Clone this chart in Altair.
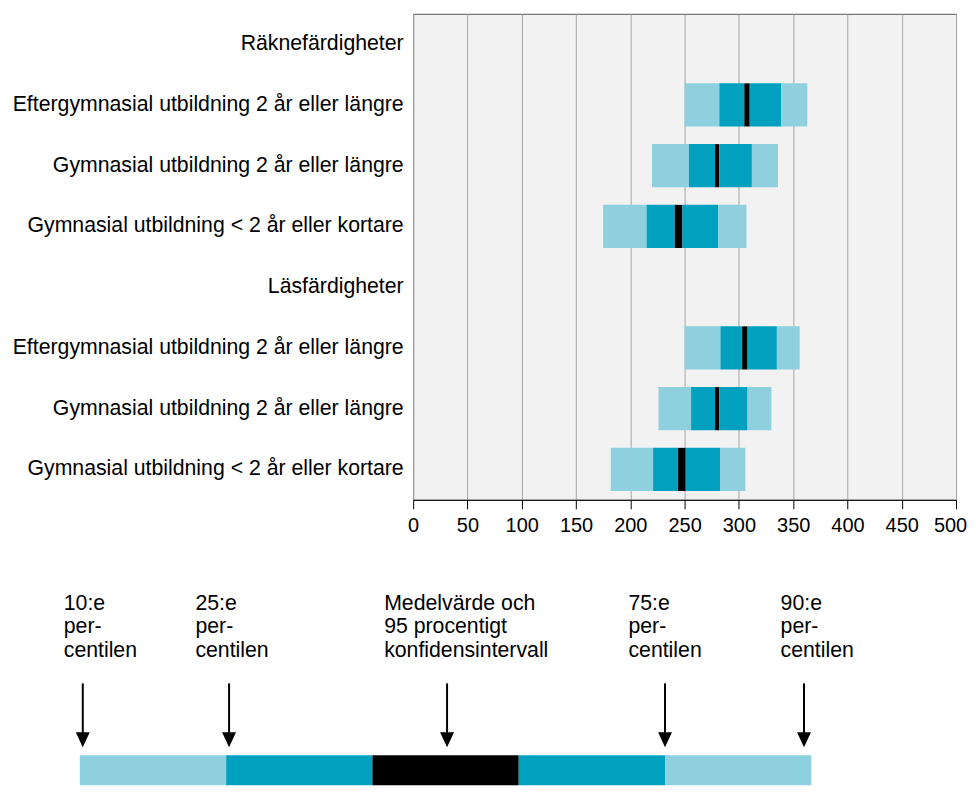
import json
import altair as alt
import pandas as pd

# ---------------- data ----------------
row_labels = [
    "Räknefärdigheter",
    "Eftergymnasial utbildning 2 år eller längre",
    "Gymnasial utbildning 2 år eller längre",
    "Gymnasial utbildning < 2 år eller kortare",
    "Läsfärdigheter",
    "Eftergymnasial utbildning 2 år eller längre",
    "Gymnasial utbildning 2 år eller längre",
    "Gymnasial utbildning < 2 år eller kortare",
]
data_rows = [1, 2, 3, 5, 6, 7]
p10 = [250, 220, 175, 250, 226, 182]
p25 = [282, 254, 215, 283, 256, 221]
ci_low = [305, 278, 241, 303, 278, 244]
ci_high = [310, 282, 248, 308, 282, 251]
p75 = [339, 312, 281, 335, 308, 283]
p90 = [363, 336, 307, 356, 330, 306]

x_ticks = [0, 50, 100, 150, 200, 250, 300, 350, 400, 450, 500]

legend_bounds = [0, 1, 2, 3, 4, 5]
legend_kinds = ["light", "dark", "black", "dark", "light"]
arrow_pos = [0.02, 1.02, 2.51, 4.0, 4.95]
text_pos = [-0.11, 0.79, 2.08, 3.75, 4.79]
text_labels = [
    "10:e\nper-\ncentilen",
    "25:e\nper-\ncentilen",
    "Medelvärde och\n95 procentigt\nkonfidensintervall",
    "75:e\nper-\ncentilen",
    "90:e\nper-\ncentilen",
]

LIGHT = "#8fd0de"
DARK = "#00a0be"
BLACK = "#000000"
FONT = "Liberation Sans"
FS = 21.3
TFS = 20

color_scale = alt.Scale(domain=["light", "dark", "black"], range=[LIGHT, DARK, BLACK])

# ---------------- main chart ----------------
segs = []
for r, a, b, c, d, e, f in zip(data_rows, p10, p25, ci_low, ci_high, p75, p90):
    for lo, hi, kind in [(a, b, "light"), (b, c, "dark"), (c, d, "black"),
                         (d, e, "dark"), (e, f, "light")]:
        segs.append({"row": r, "lo": lo, "hi": hi, "kind": kind})
seg_df = pd.DataFrame(segs)

label_expr = json.dumps(row_labels, ensure_ascii=False) + "[datum.value]"

main = alt.Chart(seg_df).mark_bar().encode(
    x=alt.X("lo:Q",
            scale=alt.Scale(domain=[0, 500], nice=False, zero=False),
            axis=alt.Axis(values=x_ticks, title=None, grid=True, gridColor="#a6a6a6",
                          gridWidth=1, domainColor="#000", tickColor="#000", tickSize=9,
                          labelFontSize=TFS, labelFont=FONT, labelColor="#000",
                          labelPadding=7, labelFlush=False,
                          labelOffset={"condition": {"test": "datum.value == 500", "value": -6},
                                       "value": 0})),
    x2="hi:Q",
    y=alt.Y("row:O",
            scale=alt.Scale(domain=list(range(len(row_labels))), paddingInner=0.29,
                            paddingOuter=0.145),
            axis=alt.Axis(title=None, labelExpr=label_expr, ticks=False, domain=False,
                          labelFontSize=FS, labelFont=FONT, labelColor="#000",
                          labelPadding=10, labelLimit=0)),
    color=alt.Color("kind:N", scale=color_scale, legend=None),
).properties(
    width=544, height=487,
    view=alt.ViewBackground(fill="#f2f2f2", stroke="#555555", strokeWidth=1),
)

# ---------------- key / legend chart ----------------
LH = 203
Y_TEXT, Y_ARROW_TOP, Y_ARROW_END, Y_HEAD, Y_BAR_TOP, Y_BAR_BOT = 27, 101, 152, 157.5, 173, 203

xs = alt.Scale(domain=[0, 5], range=[-334, 399])
ys = alt.Scale(domain=[0, LH], reverse=True)

bar_df = pd.DataFrame({
    "lo": legend_bounds[:-1], "hi": legend_bounds[1:], "kind": legend_kinds,
    "y": [Y_BAR_TOP] * 5, "y2": [Y_BAR_BOT] * 5,
})
arrow_df = pd.DataFrame({
    "x": arrow_pos, "y": [Y_ARROW_TOP] * 5, "y2": [Y_ARROW_END] * 5, "yh": [Y_HEAD] * 5,
})
text_df = pd.DataFrame({"x": text_pos, "t": text_labels, "y": [Y_TEXT] * 5})

k_bar = alt.Chart(bar_df).mark_bar().encode(
    x=alt.X("lo:Q", scale=xs, axis=None), x2="hi:Q",
    y=alt.Y("y:Q", scale=ys, axis=None), y2="y2:Q",
    color=alt.Color("kind:N", scale=color_scale, legend=None),
)
k_rule = alt.Chart(arrow_df).mark_rule(color="#000", strokeWidth=2).encode(
    x=alt.X("x:Q", scale=xs, axis=None),
    y=alt.Y("y:Q", scale=ys, axis=None), y2="y2:Q",
)
k_head = alt.Chart(arrow_df).mark_point(
    shape="M-0.93,-1L0.93,-1L0,1Z", filled=True, color="#000", opacity=1, size=225,
    strokeWidth=0,
).encode(
    x=alt.X("x:Q", scale=xs, axis=None),
    y=alt.Y("yh:Q", scale=ys, axis=None),
)
k_text = alt.Chart(text_df).mark_text(
    align="left", baseline="alphabetic", fontSize=FS, font=FONT, lineHeight=24,
    lineBreak="\n", color="#000",
).encode(
    x=alt.X("x:Q", scale=xs, axis=None),
    y=alt.Y("y:Q", scale=ys, axis=None),
    text="t:N",
)

key = alt.layer(k_bar, k_rule, k_head, k_text).properties(
    width=400, height=LH,
    view=alt.ViewBackground(fill=None, stroke=None),
)

chart = alt.vconcat(main, key, spacing=46).properties(
    padding={"left": 3, "top": 4, "right": 0, "bottom": 0}
).configure(font=FONT)

chart.save("out.html", embed_options={"renderer": "svg", "actions": False})
